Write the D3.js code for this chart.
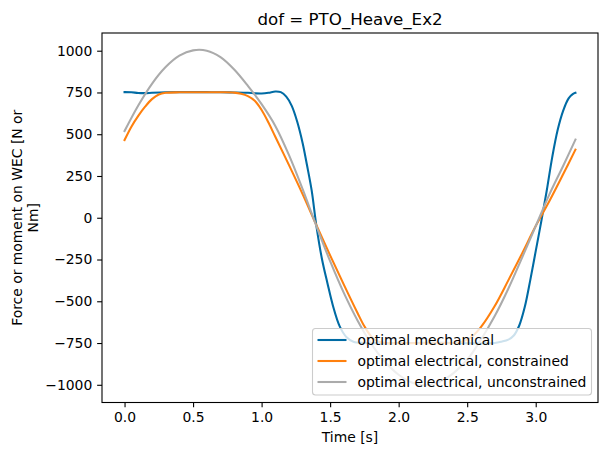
<!DOCTYPE html>
<html>
<head>
<meta charset="utf-8">
<script src="https://cdn.jsdelivr.net/npm/d3@7"></script>
<style>
  html, body { margin: 0; padding: 0; background: #fff; }
  svg { display: block; font-family: "DejaVu Sans", sans-serif; }
</style>
</head>
<body>
<svg id="chart" width="608" height="455"></svg>
<script>
// ---- data ----
const seriesNames = ["optimal mechanical", "optimal electrical, constrained", "optimal electrical, unconstrained"];
const seriesColors = ["#006BA4", "#FF800E", "#ABABAB"];

const tMech = [0, 0.05, 0.1, 0.15, 0.2, 0.3, 0.4, 0.5, 0.6, 0.7, 0.8, 0.9, 0.95, 1.0, 1.05, 1.1, 1.14, 1.18, 1.22, 1.26, 1.3, 1.33, 1.365, 1.4, 1.44, 1.48, 1.52, 1.57, 1.62, 1.67, 1.75, 1.85, 2.0, 2.2, 2.4, 2.6, 2.7, 2.75, 2.8, 2.84, 2.88, 2.92, 2.96, 3.0, 3.04, 3.08, 3.12, 3.16, 3.2, 3.24, 3.27, 3.29];
const fMech = [752, 751, 747, 746, 748, 751, 752, 752, 752, 751, 750, 748, 745, 744, 748, 756, 752, 725, 670, 575, 445, 320, 165, -50, -245, -390, -525, -650, -715, -742, -750, -752, -750, -748, -750, -752, -750, -742, -730, -705, -645, -535, -375, -200, -25, 160, 360, 525, 640, 715, 740, 748];

const tElecC = [0, 0.05, 0.1, 0.15, 0.2, 0.25, 0.3, 0.4, 0.5, 0.6, 0.7, 0.8, 0.85, 0.9, 0.95, 1.0, 1.05, 1.1, 1.2, 1.3, 1.4, 1.5, 1.6, 1.7, 1.75, 1.8, 1.85, 1.9, 2.0, 2.2, 2.4, 2.45, 2.5, 2.55, 2.6, 2.7, 2.8, 2.9, 3.0, 3.1, 3.2, 3.29];
const fElecC = [465, 545, 610, 665, 710, 738, 748, 751, 751, 751, 751, 749, 742, 728, 700, 645, 570, 485, 315, 140, -45, -225, -400, -570, -650, -710, -740, -749, -751, -751, -750, -745, -730, -700, -655, -530, -375, -215, -50, 100, 260, 408];

const tElecU = [0, 0.1, 0.2, 0.3, 0.4, 0.5, 0.6, 0.7, 0.8, 0.9, 1.0, 1.1, 1.2, 1.3, 1.4, 1.5, 1.6, 1.7, 1.8, 1.9, 2.0, 2.1, 2.2, 2.3, 2.4, 2.5, 2.6, 2.7, 2.8, 2.9, 3.0, 3.1, 3.2, 3.29];
const fElecU = [519, 672, 802, 902, 970, 1002, 1000, 962, 888, 790, 680, 550, 375, 170, -50, -260, -450, -615, -755, -862, -940, -988, -1003, -982, -930, -850, -730, -590, -425, -240, -50, 140, 310, 468];

const xTicks = [0.0, 0.5, 1.0, 1.5, 2.0, 2.5, 3.0];
const yTicks = [-1000, -750, -500, -250, 0, 250, 500, 750, 1000];

const titleText = "dof = PTO_Heave_Ex2";
const xLabel = "Time [s]";
const yLabelLines = ["Force or moment on WEC [N or", "Nm]"];

// ---- layout ----
const svg = d3.select("#chart");
const L = 102, R = 598, T = 33, B = 402.5;
const x = d3.scaleLinear().domain([-0.1645, 3.4545]).range([L, R]);
const y = d3.scaleLinear().domain([-1106, 1106]).range([B, T]);

const series = [
  tMech.map((t, i) => [t, fMech[i]]),
  tElecC.map((t, i) => [t, fElecC[i]]),
  tElecU.map((t, i) => [t, fElecU[i]])
];

const line = d3.line().x(d => x(d[0])).y(d => y(d[1])).curve(d3.curveCatmullRom.alpha(0.5));

const plot = svg.append("g");
plot.append("clipPath").attr("id", "clip").append("rect")
  .attr("x", L).attr("y", T).attr("width", R - L).attr("height", B - T);

series.forEach((s, i) => {
  plot.append("path").datum(s)
    .attr("clip-path", "url(#clip)")
    .attr("fill", "none")
    .attr("stroke", seriesColors[i])
    .attr("stroke-width", 2.08)
    .attr("stroke-linejoin", "round")
    .attr("stroke-linecap", "square")
    .attr("d", line);
});

// axes
const fontSize = 13.9;
const xAxis = d3.axisBottom(x).tickValues(xTicks).tickFormat(d3.format(".1f")).tickSizeOuter(0).tickSize(4.86).tickPadding(4.86);
const yAxis = d3.axisLeft(y).tickValues(yTicks).tickFormat(d => d < 0 ? "\u2212" + Math.abs(d) : String(d)).tickSizeOuter(0).tickSize(4.86).tickPadding(4.86);

const gx = svg.append("g").attr("transform", `translate(0,${B})`).call(xAxis);
const gy = svg.append("g").attr("transform", `translate(${L},0)`).call(yAxis);
[gx, gy].forEach(g => {
  g.select(".domain").remove();
  g.selectAll(".tick line").attr("stroke", "#000").attr("stroke-width", 1.1);
  g.selectAll(".tick text").attr("fill", "#000").attr("font-size", fontSize).attr("font-family", "DejaVu Sans");
});

// frame
svg.append("rect").attr("x", L).attr("y", T).attr("width", R - L).attr("height", B - T)
  .attr("fill", "none").attr("stroke", "#000").attr("stroke-width", 1.1);

// title & labels
svg.append("text").attr("x", (L + R) / 2).attr("y", 25).attr("text-anchor", "middle")
  .attr("font-size", 16.67).attr("fill", "#000").text(titleText);
svg.append("text").attr("x", (L + R) / 2).attr("y", 442).attr("text-anchor", "middle")
  .attr("font-size", fontSize).attr("fill", "#000").text(xLabel);
const ylx = [16.7, 33.4];
yLabelLines.forEach((txt, i) => {
  svg.append("text")
    .attr("transform", `translate(${ylx[i]},${(T + B) / 2}) rotate(-90)`)
    .attr("text-anchor", "middle").attr("dy", "0.35em")
    .attr("font-size", fontSize).attr("fill", "#000").text(txt);
});

// legend
const lg = svg.append("g");
lg.append("rect").attr("x", 312.5).attr("y", 328.5).attr("width", 279).attr("height", 66.5)
  .attr("rx", 3).attr("fill", "#fff").attr("fill-opacity", 0.8)
  .attr("stroke", "#cccccc").attr("stroke-width", 1.1);
seriesNames.forEach((name, i) => {
  const yy = 340 + i * 21;
  lg.append("line").attr("x1", 317.5).attr("x2", 346.5).attr("y1", yy).attr("y2", yy)
    .attr("stroke", seriesColors[i]).attr("stroke-width", 2.08);
  lg.append("text").attr("x", 357.5).attr("y", yy).attr("dy", "0.35em")
    .attr("font-size", fontSize).attr("fill", "#000").text(name);
});
</script>
</body>
</html>
